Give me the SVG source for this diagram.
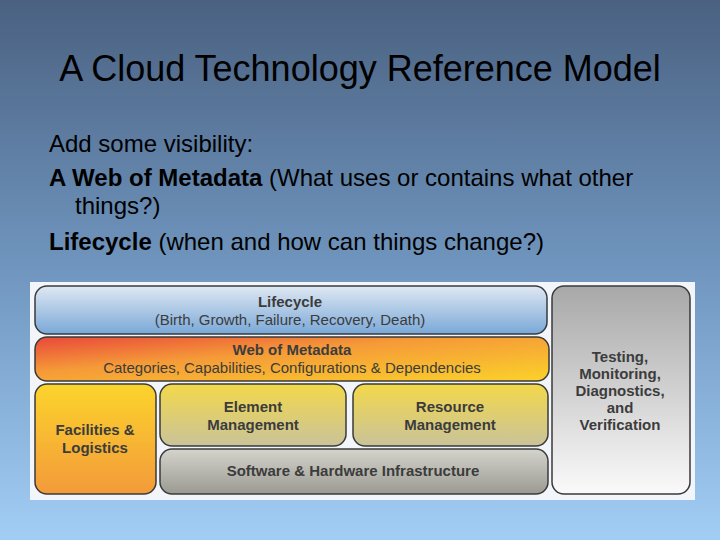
<svg xmlns="http://www.w3.org/2000/svg" width="720" height="540" viewBox="0 0 720 540">
<defs>
<linearGradient id="bg" x1="0" y1="0" x2="0" y2="1"><stop offset="0" stop-color="#4a6181"/><stop offset="0.5" stop-color="#7096bf"/><stop offset="1" stop-color="#a2cdf5"/></linearGradient>
<linearGradient id="blue" x1="0" y1="0" x2="0" y2="1"><stop offset="0" stop-color="#dfe8f2"/><stop offset="1" stop-color="#7aa8d8"/></linearGradient>
<linearGradient id="orange" x1="0" y1="0" x2="1" y2="1"><stop offset="0" stop-color="#e8483a"/><stop offset="0.4" stop-color="#f59a38"/><stop offset="1" stop-color="#fbd22a"/></linearGradient>
<linearGradient id="fac" x1="0" y1="0" x2="0" y2="1"><stop offset="0" stop-color="#fcd42c"/><stop offset="1" stop-color="#f39a3a"/></linearGradient>
<linearGradient id="yel" x1="0" y1="0" x2="0" y2="1"><stop offset="0" stop-color="#f3d84a"/><stop offset="1" stop-color="#c9c39a"/></linearGradient>
<linearGradient id="gray" x1="0" y1="0" x2="0" y2="1"><stop offset="0" stop-color="#d4d4cc"/><stop offset="1" stop-color="#9a9a92"/></linearGradient>
<linearGradient id="test" x1="0" y1="0" x2="0" y2="1"><stop offset="0" stop-color="#a8a8a8"/><stop offset="1" stop-color="#fafafa"/></linearGradient>
</defs>
<style>
.b{stroke:#3a3a3a;stroke-width:1.5}
.t{font-family:"Liberation Sans",Arial,sans-serif;fill:#3c3c3c;font-size:15px;text-anchor:middle}
.bd{font-weight:bold}
.h{font-family:"Liberation Sans",Arial,sans-serif;fill:#000}
</style>
<rect width="720" height="540" fill="url(#bg)"/>
<text class="h" x="360" y="81" font-size="36" text-anchor="middle">A Cloud Technology Reference Model</text>
<g class="h" font-size="24">
<text x="49" y="152">Add some visibility:</text>
<text x="49" y="186"><tspan font-weight="bold">A Web of Metadata</tspan> (What uses or contains what other</text>
<text x="75" y="214">things?)</text>
<text x="49" y="250"><tspan font-weight="bold">Lifecycle</tspan> (when and how can things change?)</text>
</g>
<rect x="30" y="282" width="665" height="218" fill="#f2f6fa"/>
<g id="lifecycle"><rect class="b" x="35" y="286" width="512" height="48" rx="12" fill="url(#blue)"/>
<text class="t bd" x="290" y="307">Lifecycle</text><text class="t" x="290" y="325">(Birth, Growth, Failure, Recovery, Death)</text></g>
<g id="metadata"><rect class="b" x="35" y="337" width="514" height="44" rx="12" fill="url(#orange)"/>
<text class="t bd" x="292" y="355">Web of Metadata</text><text class="t" x="292" y="373">Categories, Capabilities, Configurations &amp; Dependencies</text></g>
<g id="facilities"><rect class="b" x="35" y="384" width="121" height="110" rx="12" fill="url(#fac)"/>
<text class="t bd" x="95" y="435">Facilities &amp;</text><text class="t bd" x="95" y="453">Logistics</text></g>
<g id="element"><rect class="b" x="160" y="384" width="186" height="62" rx="12" fill="url(#yel)"/>
<text class="t bd" x="253" y="412">Element</text><text class="t bd" x="253" y="430">Management</text></g>
<g id="resource"><rect class="b" x="353" y="384" width="195" height="62" rx="12" fill="url(#yel)"/>
<text class="t bd" x="450" y="412">Resource</text><text class="t bd" x="450" y="430">Management</text></g>
<g id="software"><rect class="b" x="160" y="449" width="388" height="45" rx="12" fill="url(#gray)"/>
<text class="t bd" x="353" y="476">Software &amp; Hardware Infrastructure</text></g>
<g id="testing"><rect class="b" x="552" y="286" width="138" height="208" rx="12" fill="url(#test)"/>
<text class="t bd" x="620" y="362">Testing,</text><text class="t bd" x="620" y="379">Monitoring,</text><text class="t bd" x="620" y="396">Diagnostics,</text><text class="t bd" x="620" y="413">and</text><text class="t bd" x="620" y="430">Verification</text></g>
<g id="connectors"/>
</svg>
